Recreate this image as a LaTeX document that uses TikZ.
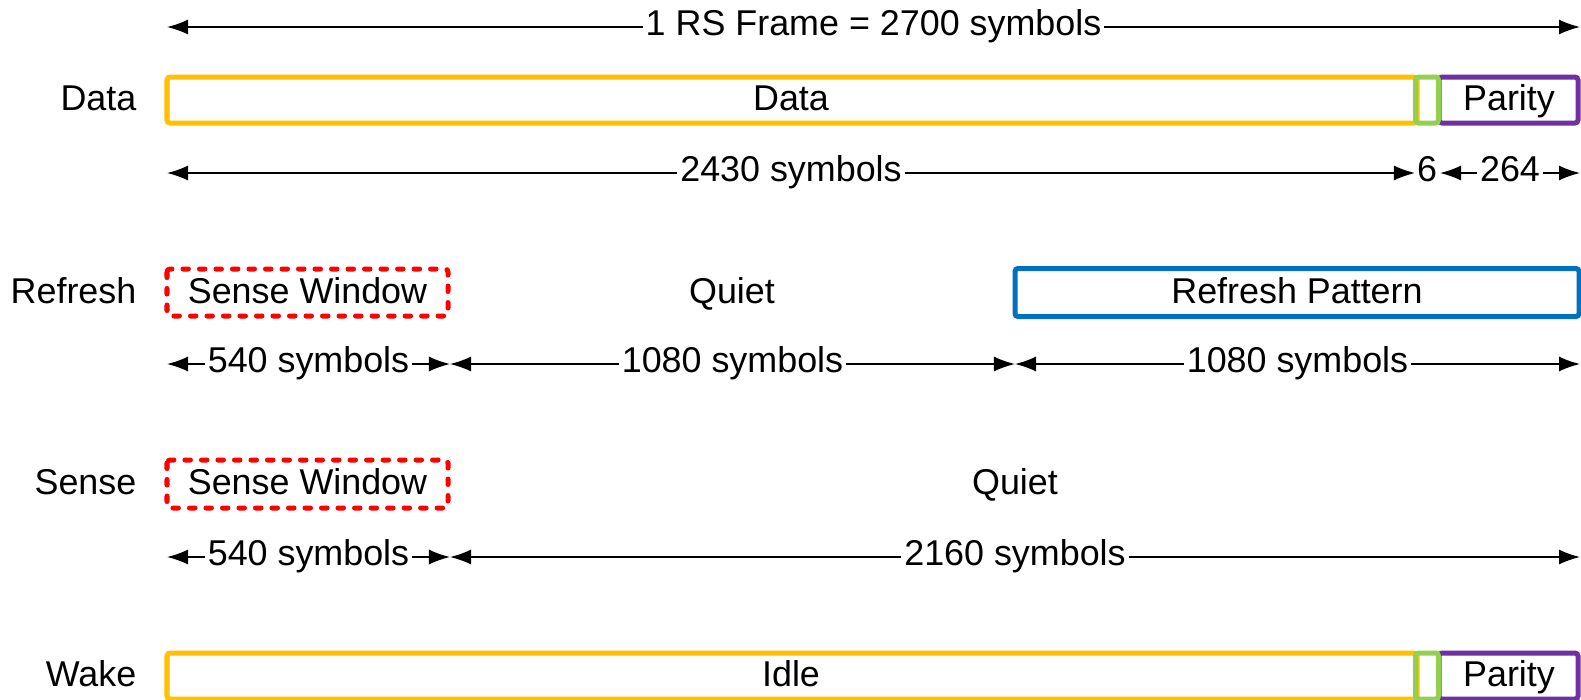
\documentclass[tikz,border=0pt]{standalone}
\usepackage{fontspec}
\setmainfont{Liberation Sans}
\usetikzlibrary{arrows.meta}

\definecolor{datayellow}{HTML}{FFC000}
\definecolor{padgreen}{HTML}{92D050}
\definecolor{paritypurple}{HTML}{7030A0}
\definecolor{refreshblue}{HTML}{0070C0}
\definecolor{sensered}{HTML}{FF0000}

\tikzset{
	field/.style = {line width = 0.05cm, rounded corners = 0.03cm},
	sensebox/.style = {field, sensered, dash pattern = on 0.055cm off 0.11cm, line cap = round},
	span/.style = {line width = 0.45pt, <->},
	spanlabel/.style = {fill = white, inner xsep = 0.03cm, inner ysep = 0pt, text height = 0.72em, text depth = 0.21em},
	rowlabel/.style = {anchor = east, inner sep = 0pt, text height = 0.72em, text depth = 0.21em},
	fieldlabel/.style = {inner sep = 0pt, text height = 0.72em, text depth = 0.21em}
}

\begin{document}
\begin{tikzpicture}[> = {Latex[length = 0.21cm, width = 0.15cm]}, x = 0.01cm, y = -0.01cm, font = \fontsize{10.2pt}{12pt}\selectfont]

	\useasboundingbox (0, 0) rectangle (1581, 699);

	% Frame length

	\coordinate (frame l) at (167, 27);
	\coordinate (frame r) at (1580, 27);
	\draw [span] (frame l) -- node [spanlabel] (frame txt) {1 RS Frame = 2700 symbols} (frame r);

	% Data row

	\node [rowlabel] (data row) at (137, 102) {Data};

	\draw [field, datayellow] (167, 77) rectangle (1417, 123);
	\draw [field, paritypurple] (1439, 77) rectangle (1578, 123);
	\draw [field, padgreen] (1415.5, 77) rectangle (1438.5, 123);

	\node [fieldlabel] (data txt) at (791, 102) {Data};
	\node [fieldlabel] (parity txt) at (1509, 102) {Parity};

	\coordinate (data a) at (167, 173);
	\coordinate (data b) at (1415, 173);
	\coordinate (data c) at (1440, 173);
	\coordinate (data d) at (1580, 173);

	\draw [span] (data a) -- node [spanlabel] (data len) {2430 symbols} (data b);
	\node [spanlabel] (pad len) at (1427, 173) {6};
	\draw [span] (data c) -- node [spanlabel] (parity len) {264} (data d);

	% Refresh row

	\node [rowlabel] (refresh row) at (137, 294.5) {Refresh};

	\draw [sensebox] (167, 269) rectangle (448, 316);
	\draw [field, refreshblue] (1015, 268.5) rectangle (1579, 316.5);

	\node [fieldlabel] (refresh sense) at (307.5, 294.5) {Sense Window};
	\node [fieldlabel] (refresh quiet) at (732, 294.5) {Quiet};
	\node [fieldlabel] (refresh pat) at (1297, 294.5) {Refresh Pattern};

	\coordinate (refresh a) at (167, 364);
	\coordinate (refresh b) at (450, 364);
	\coordinate (refresh c) at (1015, 364);
	\coordinate (refresh d) at (1580, 364);

	\draw [span] (refresh a) -- node [spanlabel] (refresh len a) {540 symbols} (refresh b);
	\draw [span] (refresh b) -- node [spanlabel] (refresh len b) {1080 symbols} (refresh c);
	\draw [span] (refresh c) -- node [spanlabel] (refresh len c) {1080 symbols} (refresh d);

	% Sense row

	\node [rowlabel] (sense row) at (137, 486) {Sense};

	\draw [sensebox] (167, 460) rectangle (448, 508);

	\node [fieldlabel] (sense win) at (307.5, 486) {Sense Window};
	\node [fieldlabel] (sense quiet) at (1015, 486) {Quiet};

	\coordinate (sense a) at (167, 557);
	\coordinate (sense b) at (450, 557);
	\coordinate (sense c) at (1580, 557);

	\draw [span] (sense a) -- node [spanlabel] (sense len a) {540 symbols} (sense b);
	\draw [span] (sense b) -- node [spanlabel] (sense len b) {2160 symbols} (sense c);

	% Wake row

	\node [rowlabel] (wake row) at (137, 678) {Wake};

	\draw [field, datayellow] (167, 653) rectangle (1417, 699);
	\draw [field, paritypurple] (1439, 653) rectangle (1578, 699);
	\draw [field, padgreen] (1415.5, 653) rectangle (1438.5, 699);

	\node [fieldlabel] (idle txt) at (791, 678) {Idle};
	\node [fieldlabel] (wake parity) at (1509, 678) {Parity};

\end{tikzpicture}
\end{document}
